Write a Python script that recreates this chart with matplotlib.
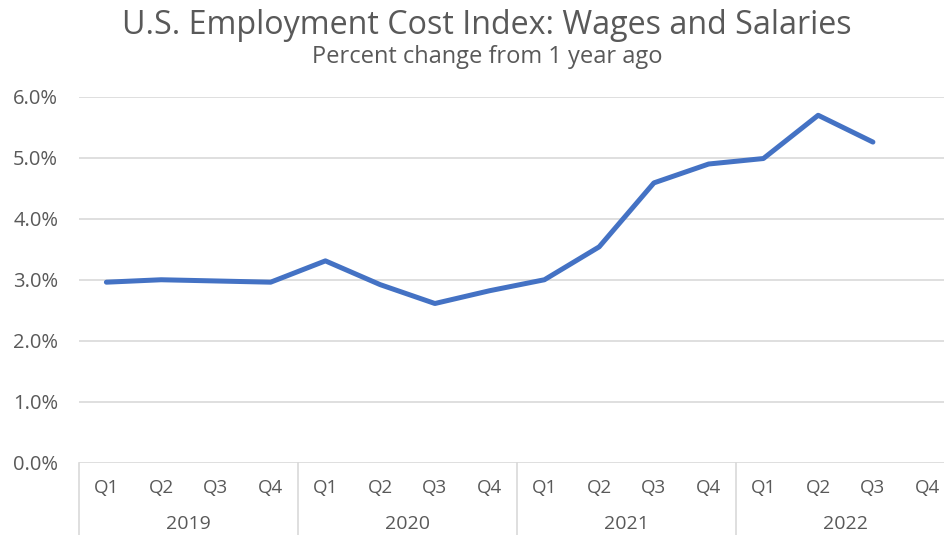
import matplotlib.pyplot as plt
import numpy as np

# ECI wages & salaries, % change from a year ago
years = ["2019", "2020", "2021", "2022"]
quarters = ["Q1", "Q2", "Q3", "Q4"]
wages_2019 = [2.96, 3.00, 2.98, 2.96]
wages_2020 = [3.31, 2.92, 2.61, 2.82]
wages_2021 = [3.00, 3.54, 4.59, 4.90]
wages_2022 = [4.99, 5.70, 5.26, np.nan]
yticks = [0, 1, 2, 3, 4, 5, 6]

values = np.array(wages_2019 + wages_2020 + wages_2021 + wages_2022)
x = np.arange(len(values))

plt.rcParams['font.family'] = ['Open Sans', 'DejaVu Sans']
txt = '#595959'
grid = '#d9d9d9'

fig = plt.figure(figsize=(9.44, 5.35), dpi=100)
# plot area runs a little past the right edge of the canvas
ax = fig.add_axes([0.0837, 0.1355, 0.928, 0.6832])

ax.plot(x, values, color='#4472c4', lw=3.6, solid_capstyle='round', solid_joinstyle='round', zorder=3)

ax.set_xlim(-0.5, len(values) - 0.5)
ax.set_ylim(0, 6)
ax.set_yticks(yticks)
ax.set_yticklabels([f"{v:.1f}%" for v in yticks], fontsize=14.5, color=txt)
ax.tick_params(axis='y', length=0, pad=15)
ax.set_xticks([])
for s in ax.spines.values():
    s.set_visible(False)
for v in yticks:
    ax.axhline(v, color=grid, lw=1.2, zorder=1)

# two-level category axis
tr = ax.get_xaxis_transform()
for i, yr in enumerate(years):
    for j, q in enumerate(quarters):
        ax.text(i * 4 + j, -0.07, q, transform=tr, ha='center', va='center',
                fontsize=13.5, color=txt)
    ax.text(i * 4 + 1.5, -0.167, yr, transform=tr, ha='center', va='center',
            fontsize=14, color=txt)
    ax.plot([i * 4 - 0.5, i * 4 - 0.5], [0, -0.2], transform=tr, color=grid,
            lw=1.2, clip_on=False)

fig.text(0.516, 0.953, "U.S. Employment Cost Index: Wages and Salaries",
         ha='center', va='center', fontsize=23.2, color=txt)
fig.text(0.516, 0.894, "Percent change from 1 year ago",
         ha='center', va='center', fontsize=17, color=txt)

fig.savefig('out.png', dpi=100, facecolor='white')
